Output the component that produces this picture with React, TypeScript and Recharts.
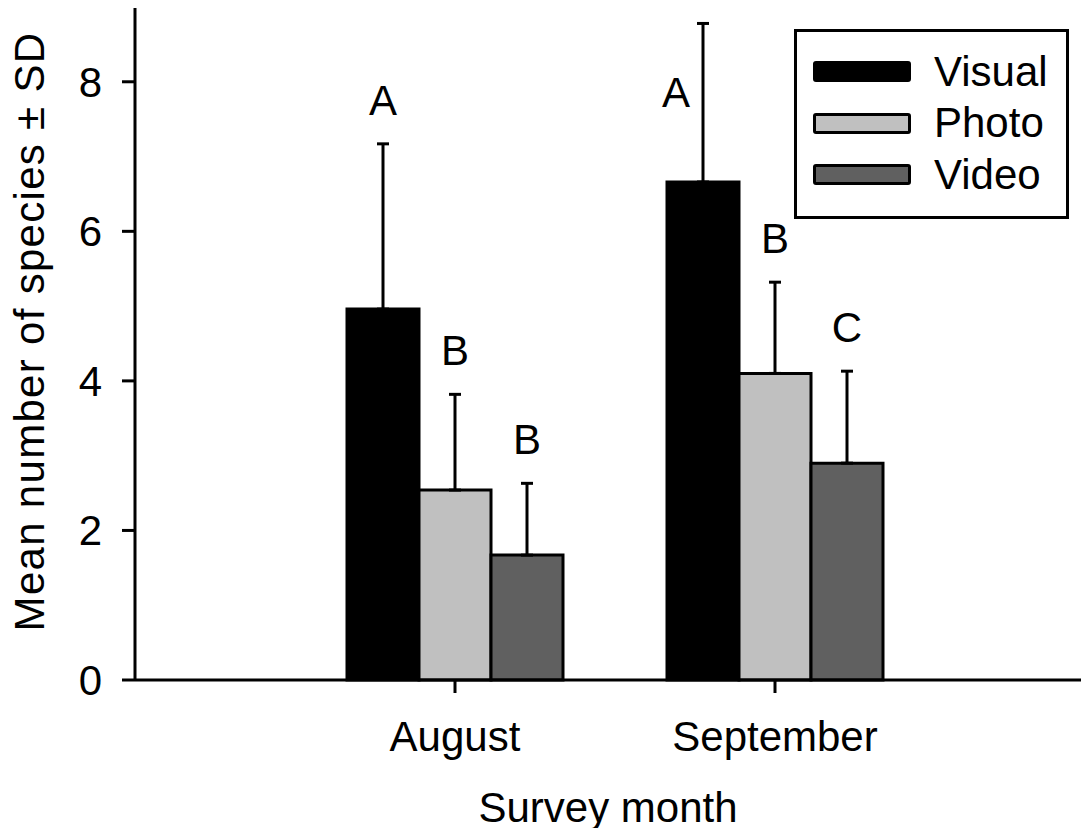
import { Bar, BarChart, ErrorBar, Label, Legend, XAxis, YAxis } from "recharts";

const months = ["August", "September"];
const seriesNames = ["Visual", "Photo", "Video"];
const visualMean = [4.96, 6.66];
const visualSd = [2.21, 2.12];
const photoMean = [2.54, 4.1];
const photoSd = [1.28, 1.22];
const videoMean = [1.67, 2.9];
const videoSd = [0.96, 1.23];
const visualLetters = ["A", "A"];
const photoLetters = ["B", "B"];
const videoLetters = ["B", "C"];
const yTicks = [0, 2, 4, 6, 8];

const FONT = "'Liberation Sans', Arial, sans-serif";
const FS = 42;

const data = months.map((m, i) => ({
  month: m,
  visual: visualMean[i],
  visualErr: [0, visualSd[i]],
  photo: photoMean[i],
  photoErr: [0, photoSd[i]],
  video: videoMean[i],
  videoErr: [0, videoSd[i]],
}));

// significance letters sit above the SD whisker; if there is no room, beside it
const letterLabel = (letters: string[], sds: number[]) => (props: any) => {
  const { x, y, width, height, value, index } = props;
  const cx = Number(x) + Number(width) / 2;
  const capY = Number(y) - sds[index] * (Number(height) / Number(value));
  let ty = capY - 29;
  let tx = cx;
  if (ty < 60) {
    ty = capY + 84;
    tx = cx - 27;
  }
  return (
    <text key={`l-${index}`} x={tx} y={ty} textAnchor="middle" fontSize={FS} fill="#000" fontFamily={FONT}>
      {letters[index]}
    </text>
  );
};

const LegendBox = ({ payload }: any) => {
  const items = [...(payload || [])].sort(
    (a: any, b: any) => seriesNames.indexOf(a.value) - seriesNames.indexOf(b.value)
  );
  return (
    <div
      style={{
        boxSizing: "border-box",
        width: 275,
        height: 190,
        border: "3px solid #000",
        background: "#fff",
        paddingTop: 14,
        fontFamily: FONT,
      }}
    >
      {items.map((p: any) => (
        <div key={p.value} style={{ display: "flex", alignItems: "center", height: 51.5 }}>
          <span
            style={{
              boxSizing: "border-box",
              display: "inline-block",
              width: 98,
              height: 21,
              marginLeft: 16,
              marginRight: 23,
              background: p.color,
              border: "3px solid #000",
              borderRadius: 3,
            }}
          />
          <span style={{ fontSize: FS, color: "#000", lineHeight: `${FS}px` }}>{p.value}</span>
        </div>
      ))}
    </div>
  );
};

export default function App() {
  return (
    <div style={{ margin: -8, width: 1089, height: 836, fontFamily: FONT, background: "#fff" }}>
      <BarChart
        width={1089}
        height={836}
        data={data}
        margin={{ top: 7, right: 0, left: 0, bottom: 0 }}
        barGap={0}
        barSize={72}
      >
        <XAxis
          dataKey="month"
          height={156}
          padding={{ left: 160, right: 154 }}
          axisLine={{ stroke: "#000", strokeWidth: 3 }}
          tickLine={{ stroke: "#000", strokeWidth: 3 }}
          tickSize={13}
          tickMargin={28}
          tick={{ fill: "#000", fontSize: FS }}
        >
          <Label
            content={({ viewBox }: any) => (
              <text
                x={viewBox.x + viewBox.width / 2 - 4}
                y={822}
                textAnchor="middle"
                fontSize={FS}
                fill="#000"
              >
                Survey month
              </text>
            )}
          />
        </XAxis>
        <YAxis
          width={135}
          domain={[0, 9]}
          ticks={yTicks}
          interval={0}
          axisLine={{ stroke: "#000", strokeWidth: 3 }}
          tickLine={{ stroke: "#000", strokeWidth: 3 }}
          tickSize={13}
          tickMargin={20}
          tick={{ fill: "#000", fontSize: FS }}
        >
          <Label
            content={({ viewBox }: any) => (
              <text
                transform={`translate(${viewBox.x + 44},${viewBox.y + viewBox.height / 2 - 12}) rotate(-90)`}
                textAnchor="middle"
                fontSize={FS}
                letterSpacing={1.3}
                fill="#000"
              >
                Mean number of species ± SD
              </text>
            )}
          />
        </YAxis>
        <Legend
          layout="vertical"
          align="center"
          verticalAlign="middle"
          wrapperStyle={{ top: 29, left: 794, width: 275, height: 190 }}
          content={<LegendBox />}
        />
        <Bar
          dataKey="visual"
          name="Visual"
          fill="#000000"
          stroke="#000"
          strokeWidth={3}
          isAnimationActive={false}
          label={letterLabel(visualLetters, visualSd)}
        >
          <ErrorBar dataKey="visualErr" direction="y" width={6} stroke="#000" strokeWidth={3} />
        </Bar>
        <Bar
          dataKey="photo"
          name="Photo"
          fill="#c0c0c0"
          stroke="#000"
          strokeWidth={3}
          isAnimationActive={false}
          label={letterLabel(photoLetters, photoSd)}
        >
          <ErrorBar dataKey="photoErr" direction="y" width={6} stroke="#000" strokeWidth={3} />
        </Bar>
        <Bar
          dataKey="video"
          name="Video"
          fill="#606060"
          stroke="#000"
          strokeWidth={3}
          isAnimationActive={false}
          label={letterLabel(videoLetters, videoSd)}
        >
          <ErrorBar dataKey="videoErr" direction="y" width={6} stroke="#000" strokeWidth={3} />
        </Bar>
      </BarChart>
    </div>
  );
}
